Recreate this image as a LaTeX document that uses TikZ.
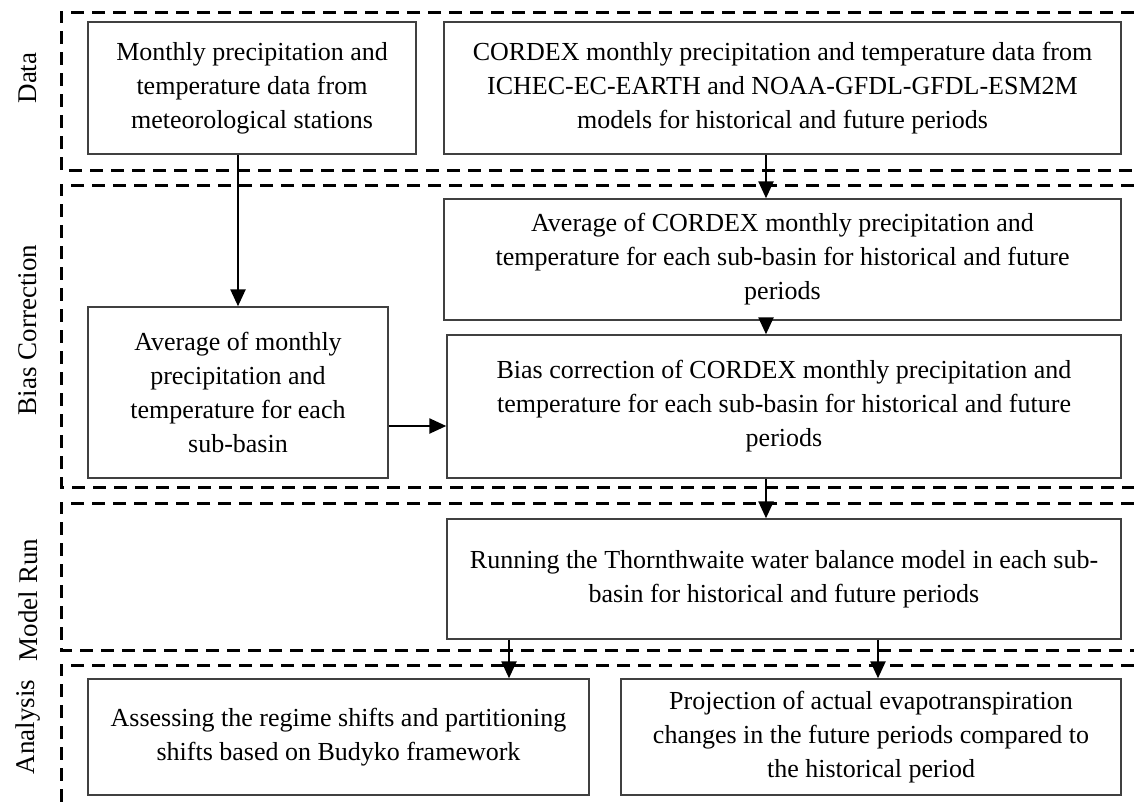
\documentclass[tikz,border=0pt]{standalone}
\usepackage{fontspec}
\setmainfont{Liberation Serif}
\usetikzlibrary{arrows.meta}
\usetikzlibrary{calc}
\definecolor{edge}{HTML}{404040}
\tikzset{
  % A process box, given its width and height
  procbox/.style 2 args={
    draw=edge, line width=1.4pt, fill=white, rectangle, align=center,
    inner sep=0pt, minimum width=#1, minimum height=#2},
  % Dashed stage frame, open on the right
  stage/.style={draw=black, line width=3pt, dash pattern=on 13pt off 8pt},
  % Rotated stage name
  stagelbl/.style={rotate=90, inner sep=0pt, font=\fontsize{27}{32}\selectfont},
  % Flow between boxes
  flow/.style={-{Triangle[length=17pt,width=15pt]}, draw=black, line width=2.4pt},
}

\begin{document}
\begin{tikzpicture}[x=1pt, y=-1pt, font=\fontsize{26}{34}\selectfont]
  \useasboundingbox (0,0) rectangle (1134,809);

  % stage frames
  \draw[stage] (1134,12) -- (61,12) -- (61,170) -- (1134,170);
  \draw[stage] (1134,185) -- (61,185) -- (61,487) -- (1134,487);
  \draw[stage] (1134,503) -- (61,503) -- (61,650) -- (1134,650);
  \draw[stage] (1134,665) -- (61,665) -- (61,809);

  \node[stagelbl] (ldata) at (28,78) {Data};
  \node[stagelbl] (lbias) at (28,330) {Bias Correction};
  \node[stagelbl] (lrun) at (28,600) {Model Run};
  \node[stagelbl] (lana) at (28,727) {Analysis};

  % boxes
  \node[procbox={328pt}{132pt}] (obs) at (252,88)
    {Monthly precipitation and\\ temperature data from\\ meteorological stations};
  \node[procbox={677pt}{132pt}] (cordex) at (782.5,88)
    {CORDEX monthly precipitation and temperature data from\\ ICHEC-EC-EARTH and NOAA-GFDL-GFDL-ESM2M\\ models for historical and future periods};
  \node[procbox={677pt}{121pt}] (cavg) at (782.5,259.5)
    {Average of CORDEX monthly precipitation and\\ temperature for each sub-basin for historical and future\\ periods};
  \node[procbox={300pt}{171pt}] (oavg) at (238,392.5)
    {Average of monthly\\ precipitation and\\ temperature for each\\ sub-basin};
  \node[procbox={674pt}{143pt}] (bias) at (784,406.5)
    {Bias correction of CORDEX monthly precipitation and\\ temperature for each sub-basin for historical and future\\ periods};
  \node[procbox={674pt}{120pt}] (twb) at (784,579)
    {Running the Thornthwaite water balance model in each sub-\\ basin for historical and future periods};
  \node[procbox={501pt}{116pt}] (budyko) at (338.5,737)
    {Assessing the regime shifts and partitioning\\ shifts based on Budyko framework};
  \node[procbox={500pt}{116pt}] (aet) at (871,737)
    {Projection of actual evapotranspiration\\ changes in the future periods compared to\\ the historical period};

  % arrow positions
  \coordinate (spine) at (766,0);
  \coordinate (leftdrop) at (509,0);
  \coordinate (rightdrop) at (878,0);

  \draw[flow] (oavg.north |- obs.south) -- (oavg.north);
  \draw[flow] (cordex.south -| spine) -- (cavg.north -| spine);
  \draw[flow] (cavg.south -| spine) -- (bias.north -| spine);
  \draw[flow] (oavg.east |- 0,426) -- (bias.west |- 0,426);
  \draw[flow] (bias.south -| spine) -- (twb.north -| spine);
  \draw[flow] (twb.south -| leftdrop) -- (budyko.north -| leftdrop);
  \draw[flow] (twb.south -| rightdrop) -- (aet.north -| rightdrop);

\end{tikzpicture}
\end{document}
